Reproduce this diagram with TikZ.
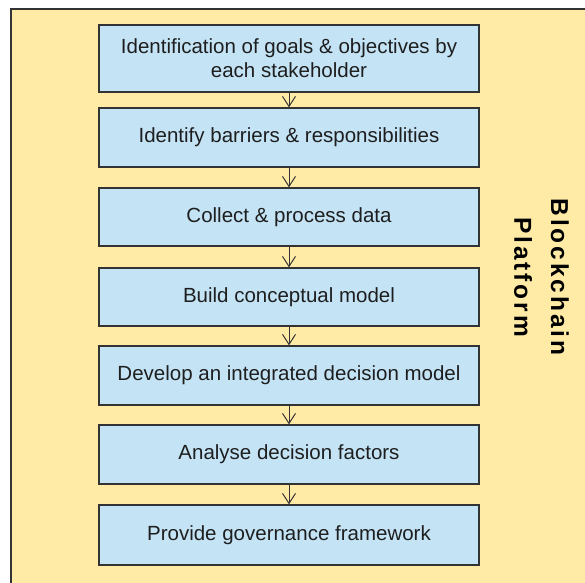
\documentclass[tikz,border=0pt]{standalone}
\usepackage{fontspec}
\setmainfont{Liberation Sans}
\newfontfamily\labelfont[LetterSpace=12]{Liberation Sans}
\usetikzlibrary{arrows.meta}
\definecolor{bgyellow}{RGB}{255,235,166}
\definecolor{boxblue}{RGB}{196,228,246}
\definecolor{edgegray}{RGB}{51,51,51}
\definecolor{txtgray}{RGB}{30,30,30}
\tikzset{
  stagebox/.style={draw=edgegray, line width=1.4pt, fill=boxblue, minimum width=380pt,
    inner sep=0pt, align=center, text=txtgray, font=\fontsize{20.5}{24}\selectfont},
  flowarr/.style={draw=edgegray, line width=1pt, -{Straight Barb[length=10pt,width=13pt,line width=1pt]}},
  platformlabel/.style={rotate=-90, align=center, text=black, inner sep=0pt,
    font=\labelfont\bfseries\fontsize{24.5}{36.7}\selectfont}
}
\begin{document}
\begin{tikzpicture}[x=1pt,y=1pt]
\useasboundingbox (0,0) rectangle (585,-582);
\fill[white] (0,0) rectangle (585,-582);
\draw[draw=edgegray, line width=1.4pt, fill=bgyellow] (11,-9) rectangle (620,-620);
\node[stagebox, minimum height=67pt] (b1) at (289,-58.5) {Identification of goals \& objectives by\\each stakeholder};
\node[stagebox, minimum height=59pt] (b2) at (289,-137.5) {Identify barriers \& responsibilities};
\node[stagebox, minimum height=58pt] (b3) at (289,-217) {Collect \& process data};
\node[stagebox, minimum height=58pt] (b4) at (289,-297) {Build conceptual model};
\node[stagebox, minimum height=59pt] (b5) at (289,-375.5) {Develop an integrated decision model};
\node[stagebox, minimum height=59pt] (b6) at (289,-454.5) {Analyse decision factors};
\node[stagebox, minimum height=60pt] (b7) at (289,-535) {Provide governance framework};
\draw[flowarr] (b1.south) -- (b2.north);
\draw[flowarr] (b2.south) -- (b3.north);
\draw[flowarr] (b3.south) -- (b4.north);
\draw[flowarr] (b4.south) -- (b5.north);
\draw[flowarr] (b5.south) -- (b6.north);
\draw[flowarr] (b6.south) -- (b7.north);
\node[platformlabel] (plat) at (541.5,-277) {Blockchain\\Platform};
\end{tikzpicture}
\end{document}
